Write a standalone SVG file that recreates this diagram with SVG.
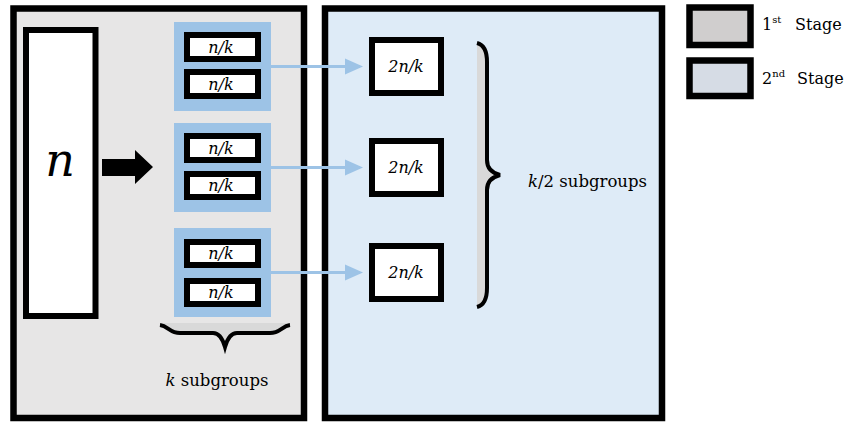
<svg xmlns="http://www.w3.org/2000/svg" width="847" height="424" viewBox="0 0 847 424">
<style>
.panel{stroke:#000;stroke-width:6.5}
.box{fill:#fff;stroke:#000;stroke-width:6}
.grp{fill:#9dc3e6}
.conn{stroke:#9dc3e6;stroke-width:3;fill:none}
.brace{fill:none;stroke:#000;stroke-width:4}
</style>
<defs>
<marker id="ah" markerWidth="6" markerHeight="6" refX="5" refY="3" orient="auto" markerUnits="strokeWidth">
<path d="M0,0.3 L6,3 L0,5.7 Z" fill="#9dc3e6"/>
</marker>
</defs>
<g id="stage1-panel"><rect class="panel" x="13.5" y="8.5" width="290.5" height="409.5" fill="#e7e6e6"/></g>
<g id="stage2-panel"><rect class="panel" x="325" y="8.5" width="337" height="409.5" fill="#deebf7"/></g>
<g font-family="DejaVu Serif, Liberation Serif, serif">
<g id="input-n"><rect class="box" x="26" y="30" width="69.5" height="286"/><text x="60" y="176" font-size="46" font-style="italic" text-anchor="middle">n</text></g>
<g id="split-arrow"><polygon points="102,159 135,159 135,150 153,167 135,184 135,176 102,176" fill="#000"/></g>
<g id="group1" font-style="italic" font-size="16" text-anchor="middle"><rect class="grp" x="174" y="22" width="97" height="89"/>
<rect class="box" x="187" y="35" width="71" height="24"/><text x="221" y="53">n/k</text>
<rect class="box" x="187" y="72" width="71" height="24"/><text x="221" y="90">n/k</text></g>
<g id="group2" font-style="italic" font-size="16" text-anchor="middle"><rect class="grp" x="174" y="123" width="97" height="89"/>
<rect class="box" x="187" y="136" width="71" height="24"/><text x="221" y="154">n/k</text>
<rect class="box" x="187" y="174" width="71" height="23"/><text x="221" y="191">n/k</text></g>
<g id="group3" font-style="italic" font-size="16" text-anchor="middle"><rect class="grp" x="174" y="228" width="97" height="89"/>
<rect class="box" x="187" y="242" width="71" height="23"/><text x="221" y="259">n/k</text>
<rect class="box" x="187" y="281" width="71" height="23"/><text x="221" y="298">n/k</text></g>
<g id="merged1" font-style="italic" font-size="16" text-anchor="middle"><rect class="box" x="372" y="40" width="69" height="53"/><text x="406" y="72">2n/k</text></g>
<g id="merged2" font-style="italic" font-size="16" text-anchor="middle"><rect class="box" x="372" y="141" width="69" height="53"/><text x="406" y="173">2n/k</text></g>
<g id="merged3" font-style="italic" font-size="16" text-anchor="middle"><rect class="box" x="372" y="246" width="69" height="53"/><text x="406" y="278">2n/k</text></g>
<g id="connectors">
<line class="conn" x1="271" y1="66.5" x2="360" y2="66.5" marker-end="url(#ah)"/>
<line class="conn" x1="271" y1="167.5" x2="360" y2="167.5" marker-end="url(#ah)"/>
<line class="conn" x1="271" y1="272.5" x2="360" y2="272.5" marker-end="url(#ah)"/>
</g>
<g id="k-brace">
<path d="M160,323 L290,323 C280,325 278,333 270,333 L237,333 C230,333 227,340 225,347 C223,340 220,333 213,333 L180,333 C172,333 170,325 160,323 Z" fill="#d9d9d9"/>
<path class="brace" d="M160,325 C168,326 170,333 180,333 L213,333 C220,333 223,340 225,347 C227,340 230,333 237,333 L270,333 C280,333 282,326 290,325"/>
<text x="217" y="386" font-size="16.5" text-anchor="middle"><tspan font-style="italic">k</tspan> subgroups</text>
</g>
<g id="k2-brace">
<path d="M477,43 C485,45 487,52 487,62 L487,160 C487,168 492,173 500,175 C492,177 487,182 487,190 L487,288 C487,298 485,305 477,307 Z" fill="#d9d9d9"/>
<path class="brace" d="M477,43 C485,45 487,52 487,62 L487,160 C487,168 492,173 500,175 C492,177 487,182 487,190 L487,288 C487,298 485,305 477,307"/>
<text x="528" y="187" font-size="16.5"><tspan font-style="italic">k</tspan>/2 subgroups</text>
</g>
<g id="legend1"><rect x="689.5" y="7.5" width="61" height="37.5" fill="#d0cece" stroke="#000" stroke-width="6.5"/>
<text x="762" y="30" font-size="16">1<tspan font-size="10" dy="-7">st</tspan><tspan dy="7" x="795">Stage</tspan></text></g>
<g id="legend2"><rect x="689.5" y="60.5" width="61" height="35.5" fill="#d6dce5" stroke="#000" stroke-width="6.5"/>
<text x="762" y="84" font-size="16">2<tspan font-size="10" dy="-7">nd</tspan><tspan dy="7" x="797">Stage</tspan></text></g>
</g>
</svg>
